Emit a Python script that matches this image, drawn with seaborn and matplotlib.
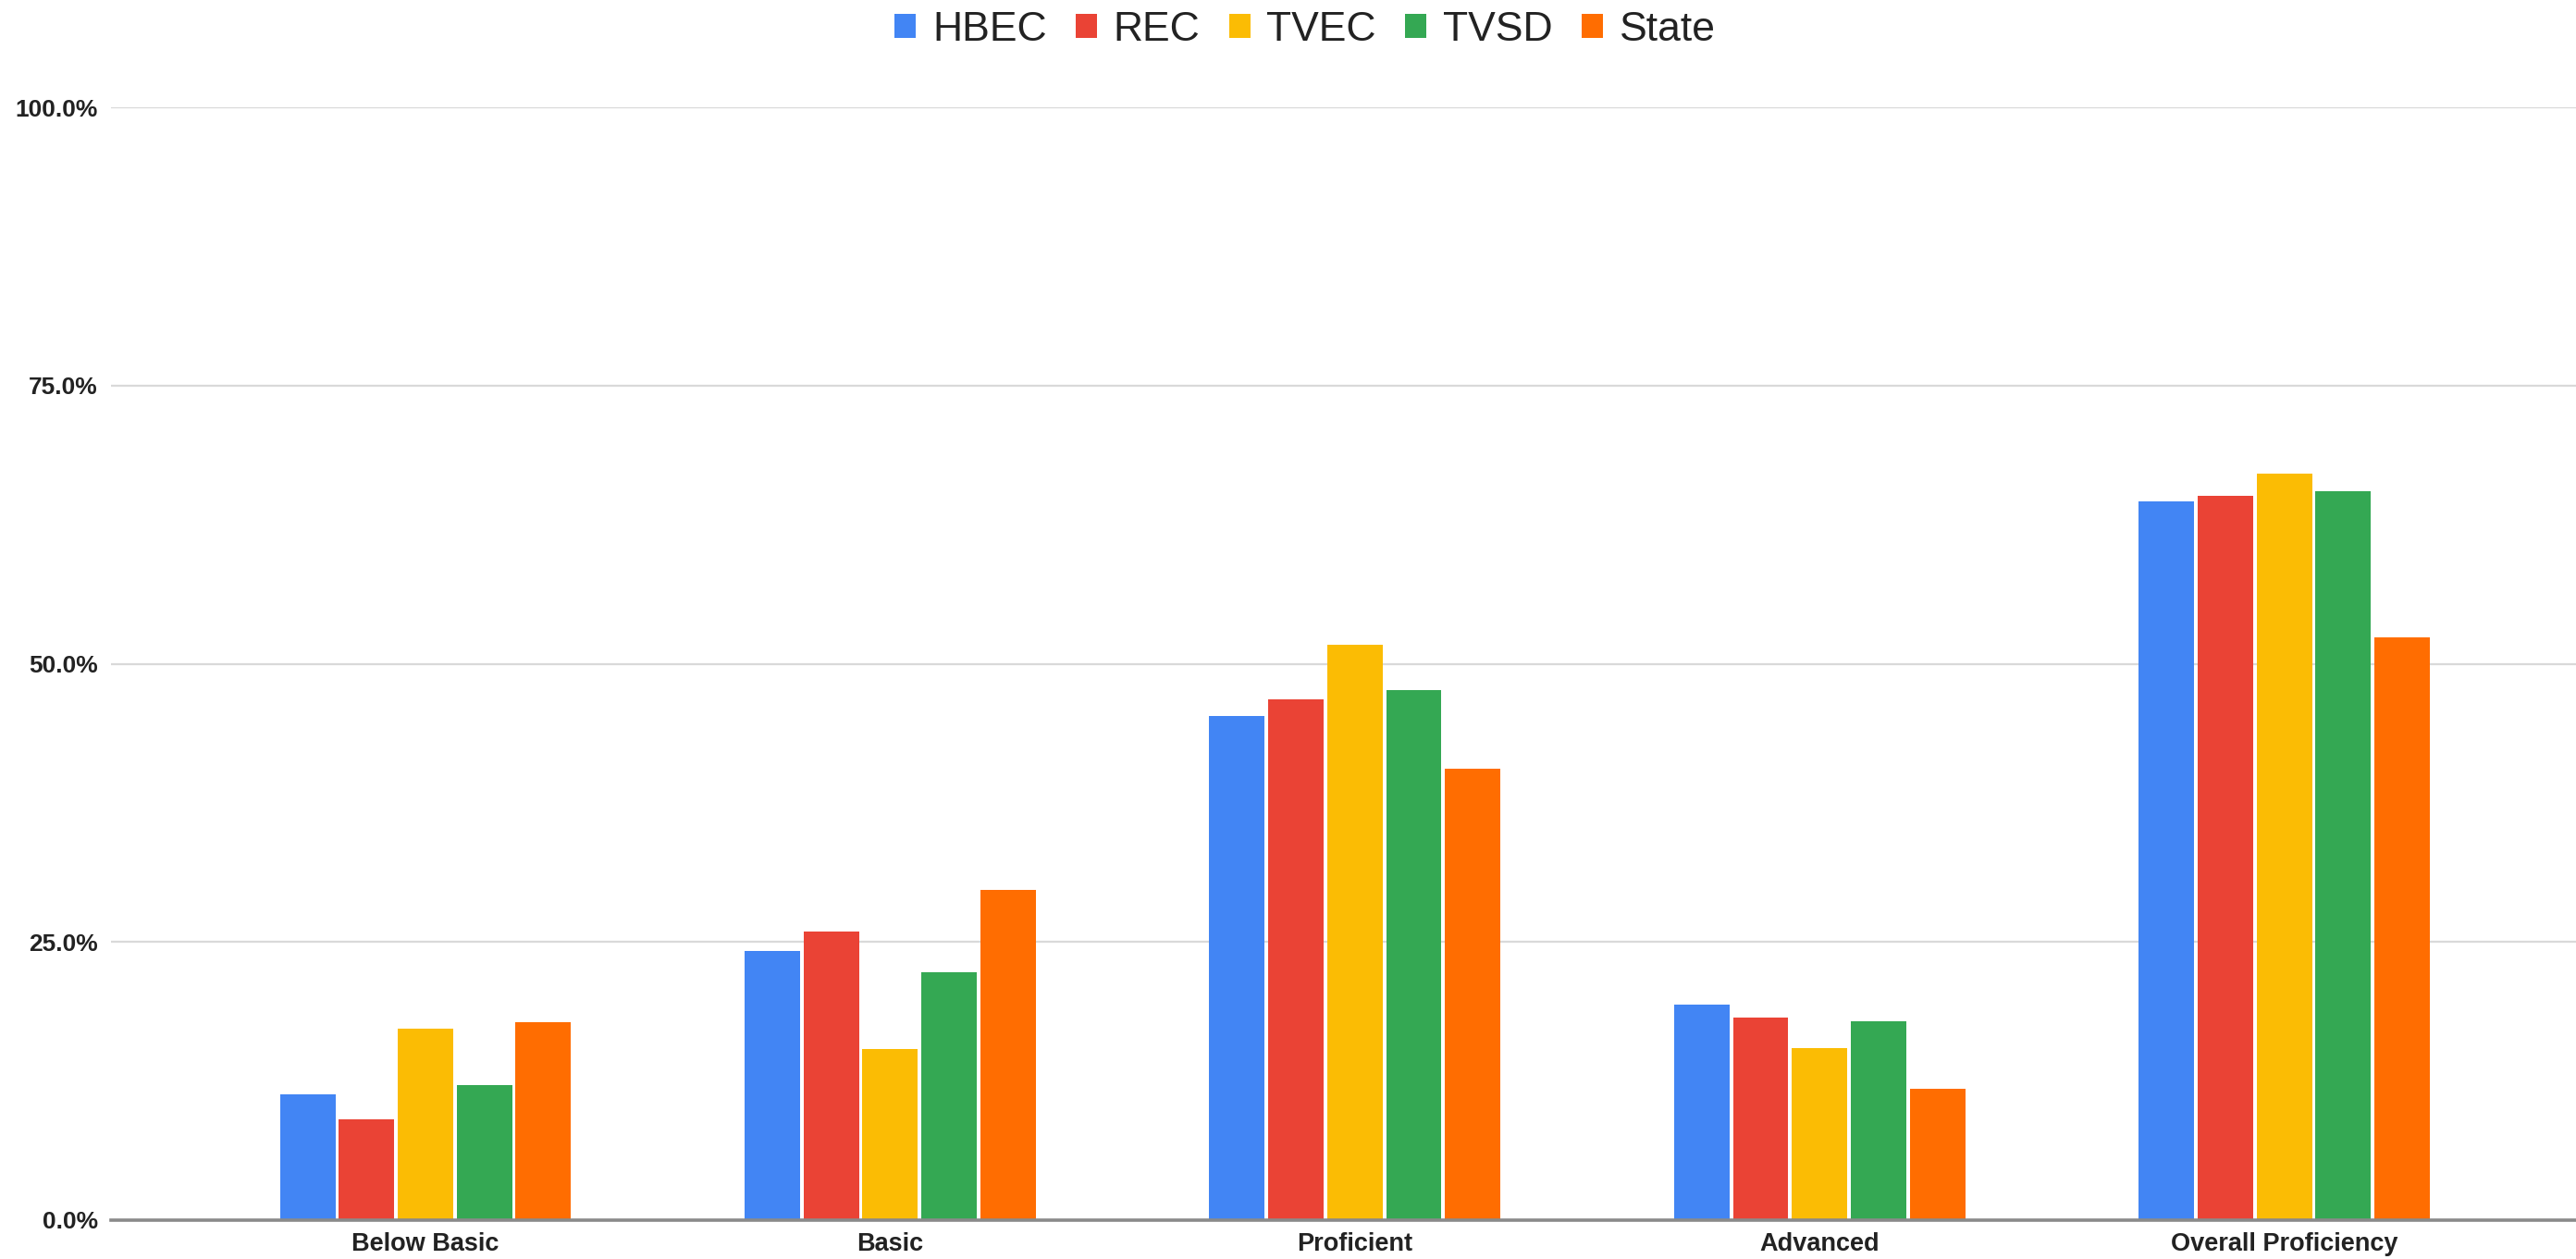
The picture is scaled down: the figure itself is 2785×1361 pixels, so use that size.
import matplotlib
matplotlib.use("Agg")
import matplotlib.pyplot as plt
import seaborn as sns
import pandas as pd
from matplotlib.patches import Patch
from matplotlib.ticker import FuncFormatter

categories = ["Below Basic", "Basic", "Proficient", "Advanced", "Overall Proficiency"]
series = ["HBEC", "REC", "TVEC", "TVSD", "State"]
hbec = [11.3, 24.2, 45.3, 19.4, 64.6]
rec = [9.1, 25.9, 46.8, 18.2, 65.1]
tvec = [17.2, 15.4, 51.7, 15.5, 67.1]
tvsd = [12.1, 22.3, 47.6, 17.9, 65.5]
state = [17.8, 29.7, 40.6, 11.8, 52.4]
colors = ["#4285F4", "#EA4335", "#FBBC04", "#34A853", "#FF6D01"]
yticks = [0, 25, 50, 75, 100]

values = [hbec, rec, tvec, tvsd, state]
rows = []
for s, vals in zip(series, values):
    for c, v in zip(categories, vals):
        rows.append({"category": c, "series": s, "value": v})
df = pd.DataFrame(rows)

sns.set_theme(style="white")
plt.rcParams["font.family"] = ["Liberation Sans", "DejaVu Sans"]

W, H = 2785, 1361
fig = plt.figure(figsize=(W / 100, H / 100), dpi=100)
left, right = 120 / W, 1.0
bottom, top = 1 - 1319 / H, 1 - 116 / H
ax = fig.add_axes([left, bottom, right - left, top - bottom])

sns.barplot(data=df, x="category", y="value", hue="series", order=categories,
            hue_order=series, palette=colors, width=0.634, gap=0.06,
            saturation=1, legend=False, ax=ax, linewidth=0, errorbar=None)

ax.set_xlim((120 - 460) / 502.4, (2785 - 460) / 502.4)
ax.set_ylim(0, 100)
ax.set_yticks(yticks)
ax.yaxis.set_major_formatter(FuncFormatter(lambda v, p: f"{v:.1f}%"))
ax.grid(axis="y", color="#d9d9d9", linewidth=1.6)
ax.grid(axis="x", visible=False)
ax.set_axisbelow(True)
for side in ["top", "right", "left"]:
    ax.spines[side].set_visible(False)
ax.spines["bottom"].set_color("#8a8a8a")
ax.spines["bottom"].set_linewidth(2.6)
ax.spines["bottom"].set_zorder(5)
ax.set_xlabel("")
ax.set_ylabel("")
ax.tick_params(axis="x", length=0, pad=9, labelsize=19.5, labelcolor="#222222")
ax.tick_params(axis="y", length=0, pad=10, labelsize=19, labelcolor="#222222")
for lab in ax.get_xticklabels() + ax.get_yticklabels():
    lab.set_fontweight("bold")

handles = [Patch(facecolor=c, edgecolor="none", label=s) for s, c in zip(series, colors)]
fig.legend(handles=handles, loc="center", bbox_to_anchor=(0.5066, 0.976), ncol=5,
           frameon=False, fontsize=32, handlelength=0.52, handleheight=0.52,
           handletextpad=0.4, columnspacing=0.7, borderaxespad=0, borderpad=0,
           labelcolor="#222222")

fig.savefig("out.png", dpi=100, facecolor="white")
